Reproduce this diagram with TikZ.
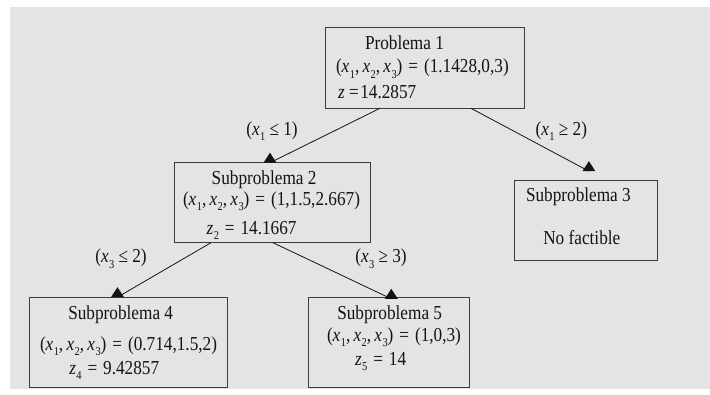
\documentclass[tikz,border=0pt]{standalone}
\usepackage{fontspec}
\setmainfont{Liberation Serif}[FakeStretch=0.87]
\usetikzlibrary{calc,decorations.markings}

\definecolor{paper}{RGB}{228,228,228}
\definecolor{ink}{RGB}{20,20,20}
\definecolor{frame}{RGB}{60,60,60}

% text sizes
\newcommand\mainsz{\fontsize{19.8}{22}\selectfont}
\newcommand\subsz{\fontsize{12}{12}\selectfont}
% italic variable with a lowered index
\newcommand\vx[2]{\textit{#1}\kern0.02em\raisebox{-0.27em}{\subsz #2}}
\newcommand\trip{(\vx{x}{1},\,\vx{x}{2},\,\vx{x}{3})}
\newcommand\eq{\hspace{0.3em}=\hspace{0.3em}}

\tikzset{
  box/.style={draw=frame, line width=0.9pt, inner sep=0pt, outer sep=0pt,
              anchor=north west},
  txt/.style={inner sep=0pt, outer sep=0pt, anchor=base west, text=ink, font=\mainsz},
  lbl/.style={inner sep=0pt, outer sep=0pt, anchor=base, text=ink, font=\mainsz},
  conn/.style={draw=ink, line width=0.8pt,
    postaction={decorate, decoration={markings,
      mark=at position 1 with {\pgftransformresetnontranslations
        \fill[ink] (-6.5pt,0pt) -- (6.5pt,0pt) -- (0pt,10pt) -- cycle;}}}},
}

\begin{document}
\begin{tikzpicture}[x=1pt,y=-1pt]
  \useasboundingbox (0,0) rectangle (710,394);
  \fill[paper] (10,7) rectangle (710,389);

  % boxes
  \node[box, minimum width=199pt, minimum height=81pt]   (p1) at (325,27.3)  {};
  \node[box, minimum width=196.7pt, minimum height=80pt] (p2) at (174,162.7) {};
  \node[box, minimum width=143.3pt, minimum height=80pt] (p3) at (514.4,180.7) {};
  \node[box, minimum width=198pt, minimum height=90.2pt] (p4) at (29.3,297.3) {};
  \node[box, minimum width=161pt, minimum height=90pt]   (p5) at (308.3,297.3) {};

  % problem 1
  \node[txt] (t1a) at (365,49.3) {Problema 1};
  \node[txt] (t1b) at (336,72.8) {\trip\eq(1.1428,0,3)};
  \node[txt] (t1c) at (338,98)   {\textit{z} =\kern0.08em14.2857};

  % subproblem 2
  \node[txt] (t2a) at (211.7,184.3) {Subproblema 2};
  \node[txt] (t2b) at (183,205.5)   {\trip\eq(1,1.5,2.667)};
  \node[txt] (t2c) at (206.7,234.5) {\vx{z}{2}\eq14.1667};

  % subproblem 3
  \node[txt] (t3a) at (526,201)     {Subproblema 3};
  \node[txt] (t3b) at (543.3,244.3) {No factible};

  % subproblem 4
  \node[txt] (t4a) at (68.3,319.3) {Subproblema 4};
  \node[txt] (t4b) at (40,350)     {\trip\eq(0.714,1.5,2)};
  \node[txt] (t4c) at (69.3,374.5) {\vx{z}{4}\eq9.42857};

  % subproblem 5
  \node[txt] (t5a) at (337.3,319.3) {Subproblema 5};
  \node[txt] (t5b) at (327,341.2)   {\trip\eq(1,0,3)};
  \node[txt] (t5c) at (355,365.5)   {\vx{z}{5}\eq14};

  % branches
  \draw[conn] ($(p1.south west)+(55,0)$)  -- ($(p2.north west)+(96,0)$);
  \draw[conn] ($(p1.south west)+(146,0)$) -- ($(p3.north west)+(74.5,-9.5)$);
  \draw[conn] ($(p2.south west)+(37,0)$)  -- ($(p4.north west)+(88,0)$);
  \draw[conn] ($(p2.south west)+(99,0)$)  -- ($(p5.north west)+(83,1.5)$);

  % branching conditions
  \node[lbl] (c1) at (272,135)   {(\vx{x}{1} ≤ 1)};
  \node[lbl] (c2) at (561.3,135) {(\vx{x}{1} ≥ 2)};
  \node[lbl] (c3) at (121,262.8) {(\vx{x}{3} ≤ 2)};
  \node[lbl] (c4) at (381,262.8) {(\vx{x}{3} ≥ 3)};
\end{tikzpicture}
\end{document}
